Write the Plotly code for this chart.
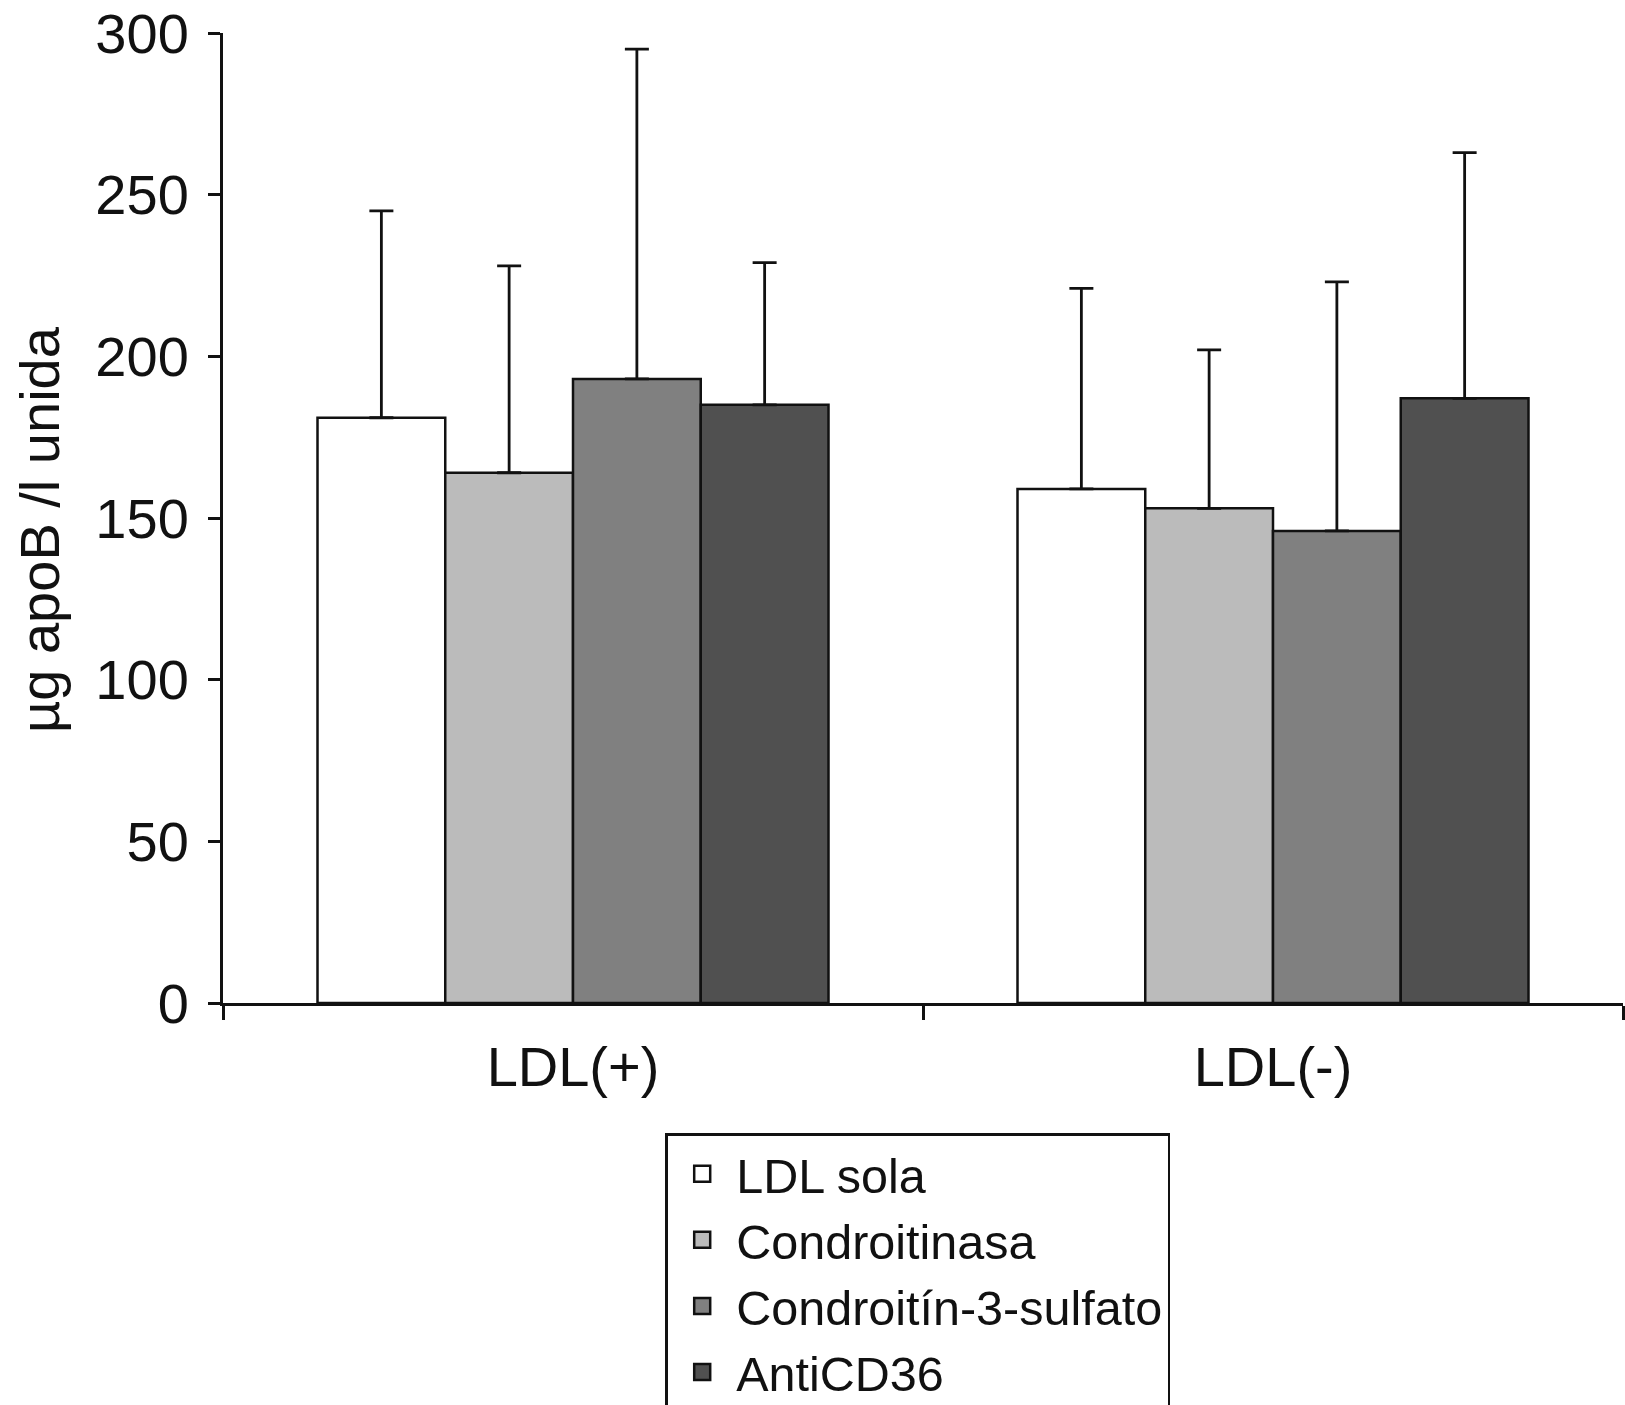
import plotly.graph_objects as go

groups = ["LDL(+)", "LDL(-)"]
series = ["LDL sola", "Condroitinasa", "Condroitín-3-sulfato", "AntiCD36"]
means = {
    "LDL sola": [181, 159],
    "Condroitinasa": [164, 153],
    "Condroitín-3-sulfato": [193, 146],
    "AntiCD36": [185, 187],
}
errs = {
    "LDL sola": [64, 62],
    "Condroitinasa": [64, 49],
    "Condroitín-3-sulfato": [102, 77],
    "AntiCD36": [44, 76],
}
colors = ["#ffffff", "#bbbbbb", "#808080", "#505050"]
ylabel = "µg apoB /l unida"

font = "Liberation Sans, Arial, sans-serif"
ink = "#111111"

fig = go.Figure()
for name, col in zip(series, colors):
    fig.add_trace(go.Bar(
        x=groups, y=means[name], name=name, showlegend=False,
        marker=dict(color=col, line=dict(color=ink, width=2.5)),
        error_y=dict(type="data", array=errs[name], arrayminus=[0, 0], symmetric=False,
                     color=ink, thickness=2.8, width=12),
    ))
# legend entries with bigger square swatches
for name, col in zip(series, colors):
    fig.add_trace(go.Scatter(
        x=[None], y=[None], mode="markers", name=name,
        marker=dict(symbol="square", size=16, color=col, line=dict(color=ink, width=2.5)),
    ))

fig.update_layout(
    width=1625, height=1405,
    margin=dict(l=223, r=2, t=33, b=402, autoexpand=False),
    plot_bgcolor="white", paper_bgcolor="white",
    barmode="group", bargap=0.27, bargroupgap=0,
    font=dict(family=font, color=ink),
    legend=dict(x=0.316, y=-0.134, xanchor="left", yanchor="top",
                bordercolor=ink, borderwidth=2.8, bgcolor="white",
                font=dict(size=48.5, family=font), tracegroupgap=0, itemwidth=58),
)
fig.update_xaxes(
    showline=True, linecolor=ink, linewidth=3,
    ticks="outside", tickson="boundaries", ticklen=14, tickwidth=2.5, tickcolor=ink,
    tickfont=dict(size=56), ticklabelstandoff=13, showgrid=False,
)
fig.update_yaxes(
    range=[0, 300], tickvals=[0, 50, 100, 150, 200, 250, 300],
    showline=True, linecolor=ink, linewidth=3,
    ticks="outside", ticklen=12, tickwidth=2.5, tickcolor=ink,
    tickfont=dict(size=56), ticklabelstandoff=8, showgrid=False, zeroline=False,
)
fig.add_annotation(
    text=ylabel, textangle=-90, font=dict(size=56),
    xref="paper", yref="paper", x=0, y=0.5, xanchor="center", yanchor="middle",
    xshift=-184, yshift=-12, showarrow=False,
)

fig.write_html("out.html", config={"displayModeBar": False},
               post_script="document.body.style.margin='0px';")
